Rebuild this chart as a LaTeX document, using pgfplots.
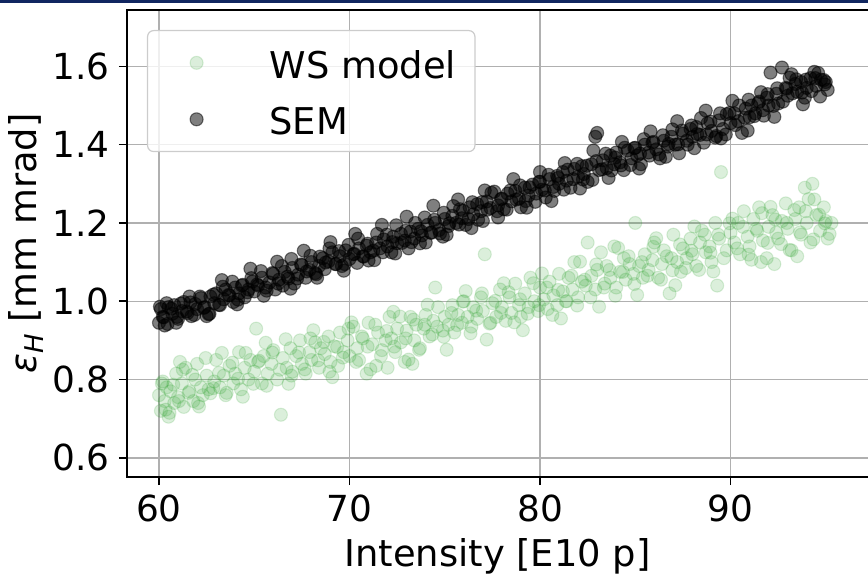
\documentclass[border=0pt]{standalone}
\usepackage{fontspec}
\setmainfont{DejaVu Sans}
\usepackage{pgfplots}
\usepackage{pgfplotstable}
\pgfplotsset{compat=1.18}

\definecolor{wsgreen}{RGB}{44,160,44}
\definecolor{gridgray}{RGB}{176,176,176}
\definecolor{legframe}{RGB}{204,204,204}
\definecolor{topbar}{RGB}{16,38,96}

% Emittance from the wire-scanner model
\pgfplotstableread{
x y
60.0 0.760
60.1 0.720
60.15 0.790
60.2 0.795
60.3 0.745
60.35 0.723
60.4 0.780
60.5 0.705
60.6 0.770
60.75 0.787
60.8 0.740
60.9 0.815
61.0 0.755
61.05 0.745
61.2 0.790
61.25 0.825
61.3 0.730
61.4 0.830
61.55 0.766
61.6 0.770
61.75 0.812
61.8 0.745
61.9 0.800
62.0 0.840
62.05 0.740
62.2 0.780
62.3 0.760
62.45 0.855
62.5 0.810
62.6 0.775
62.7 0.765
62.85 0.778
62.9 0.795
63.0 0.850
63.15 0.817
63.2 0.780
63.4 0.810
63.5 0.760
63.55 0.766
63.7 0.835
63.85 0.843
63.9 0.790
64.0 0.815
64.15 0.802
64.2 0.870
64.3 0.775
64.5 0.830
64.55 0.868
64.7 0.800
64.8 0.850
64.95 0.789
65.0 0.820
65.1 0.930
65.2 0.845
65.25 0.848
65.4 0.790
65.5 0.860
65.65 0.784
65.7 0.815
65.9 0.840
65.95 0.869
66.0 0.875
66.2 0.800
66.35 0.825
66.4 0.710
66.5 0.855
66.65 0.903
66.7 0.830
66.9 0.880
66.95 0.810
67.0 0.820
67.2 0.860
67.35 0.869
67.4 0.900
67.5 0.840
67.65 0.826
67.7 0.815
67.9 0.870
67.95 0.905
68.0 0.850
68.2 0.895
68.35 0.849
68.4 0.830
68.5 0.880
68.65 0.896
68.7 0.865
68.9 0.910
68.95 0.820
69.0 0.845
69.2 0.885
69.35 0.883
69.4 0.835
69.5 0.920
69.65 0.856
69.7 0.870
69.9 0.900
69.95 0.930
70.0 0.860
70.2 0.935
70.35 0.845
70.4 0.880
70.5 0.850
70.65 0.910
70.7 0.905
70.9 0.815
70.95 0.884
71.0 0.945
71.2 0.890
71.35 0.940
71.4 0.835
71.5 0.920
71.65 0.860
71.7 0.875
71.9 0.900
71.95 0.924
72.0 0.830
72.1 0.960
72.2 0.905
72.35 0.884
72.4 0.870
72.5 0.930
72.65 0.961
72.7 0.895
72.9 0.845
72.95 0.905
73.0 0.925
73.2 0.960
73.3 0.840
73.35 0.953
73.4 0.900
73.5 0.940
73.65 0.876
73.7 0.880
73.9 0.930
73.95 0.940
74.0 0.965
74.2 0.910
74.35 0.915
74.4 0.950
74.5 1.035
74.6 0.935
74.65 0.985
74.9 0.925
74.95 0.909
75.0 0.960
75.2 0.940
75.35 0.970
75.4 0.990
75.5 0.920
75.65 0.939
75.7 0.965
75.9 0.945
75.95 0.999
76.0 1.000
76.2 0.960
76.35 0.918
76.4 0.935
76.5 0.985
76.65 0.976
76.7 0.955
76.9 1.010
76.95 1.020
77.0 0.975
77.1 1.120
77.35 0.943
77.4 0.945
77.5 0.995
77.65 1.001
77.7 0.960
77.9 1.030
77.95 0.970
78.0 0.985
78.2 0.950
78.35 1.023
78.4 1.010
78.5 0.970
78.65 0.946
78.7 1.045
78.9 0.990
78.95 1.005
79.0 0.960
79.2 1.020
79.35 0.968
79.4 0.985
79.5 1.060
79.65 1.046
79.7 1.000
79.9 0.975
79.95 0.990
80.0 1.035
80.2 1.005
80.35 1.035
80.4 0.980
80.5 1.050
80.65 0.965
80.7 1.015
80.9 0.990
80.95 1.029
81.0 1.070
81.2 1.025
81.35 1.000
81.4 1.000
81.5 1.060
81.65 1.065
81.7 1.030
81.8 1.100
81.95 0.989
82.0 1.010
82.2 1.050
82.35 1.055
82.4 1.040
82.5 1.150
82.65 1.010
82.7 1.065
82.9 1.030
82.95 1.094
83.0 1.080
83.2 1.125
83.35 1.035
83.4 1.045
83.5 1.090
83.65 1.080
83.7 1.060
83.9 1.140
83.95 1.014
84.0 1.035
84.2 1.075
84.35 1.075
84.4 1.110
84.5 1.055
84.65 1.115
84.7 1.095
84.9 1.070
84.95 1.044
85.0 1.200
85.2 1.090
85.35 1.100
85.4 1.060
85.5 1.120
85.65 1.065
85.7 1.080
85.9 1.105
85.95 1.139
86.0 1.150
86.2 1.060
86.35 1.055
86.4 1.095
86.5 1.130
86.65 1.115
86.8 1.020
86.9 1.110
86.95 1.079
87.0 1.170
87.2 1.100
87.35 1.145
87.4 1.075
87.5 1.135
87.65 1.085
87.7 1.110
87.9 1.160
87.95 1.129
88.0 1.120
88.2 1.090
88.35 1.080
88.4 1.150
88.5 1.180
88.65 1.170
88.7 1.125
88.9 1.140
88.95 1.124
89.0 1.100
89.2 1.200
89.3 1.040
89.35 1.170
89.4 1.160
89.5 1.330
89.65 1.110
89.8 1.130
89.95 1.199
90.0 1.175
90.2 1.150
90.35 1.135
90.4 1.200
90.5 1.120
90.65 1.190
90.7 1.230
90.9 1.165
90.95 1.119
91.0 1.140
91.2 1.210
91.35 1.185
91.4 1.180
91.5 1.240
91.6 1.100
91.65 1.225
91.7 1.155
91.9 1.110
91.95 1.149
92.0 1.190
92.2 1.220
92.3 1.095
92.35 1.209
92.4 1.175
92.5 1.160
92.65 1.146
92.7 1.205
92.9 1.250
92.95 1.200
93.0 1.185
93.2 1.130
93.35 1.233
93.4 1.210
93.5 1.115
93.6 1.240
93.65 1.176
93.7 1.170
93.9 1.290
93.95 1.230
94.0 1.200
94.2 1.150
94.3 1.300
94.35 1.158
94.4 1.260
94.5 1.220
94.65 1.221
94.7 1.180
94.9 1.240
94.95 1.199
95.0 1.205
95.1 1.160
95.3 1.200
60.55 0.715
61.1 0.845
62.1 0.731
63.3 0.868
64.4 0.756
65.6 0.894
66.8 0.789
68.1 0.926
69.1 0.806
70.1 0.946
71.1 0.826
72.3 0.973
73.1 0.851
74.1 0.991
75.1 0.876
76.1 1.026
77.2 0.902
78.1 1.046
79.1 0.926
80.1 1.071
81.1 0.956
82.1 1.101
83.1 0.986
84.1 1.136
85.1 1.016
86.1 1.161
87.1 1.041
88.1 1.191
89.1 1.076
90.1 1.211
91.1 1.106
92.1 1.241
93.1 1.131
94.1 1.261
95.2 1.172
}\wsdata

% Emittance measured with the secondary emission monitor
\pgfplotstableread{
x y
60.0 0.945
60.05 0.986
60.1 0.980
60.2 0.960
60.25 0.959
60.3 0.938
60.45 0.942
60.5 0.985
60.65 0.981
60.7 0.968
60.8 0.990
60.95 0.960
61.0 0.955
61.15 0.994
61.2 0.975
61.3 0.998
61.45 0.974
61.5 0.970
61.65 0.997
61.7 0.962
61.85 0.965
61.9 0.993
62.0 0.980
62.15 1.012
62.2 1.008
62.35 0.983
62.4 0.985
62.5 0.962
62.65 0.968
62.7 1.012
62.85 1.017
62.9 0.995
63.0 1.020
63.15 0.991
63.2 0.990
63.35 1.037
63.4 1.005
63.5 1.030
63.65 1.016
63.7 1.015
63.85 1.050
63.9 0.998
64.0 1.035
64.15 1.004
64.2 1.020
64.35 1.040
64.4 1.042
64.5 1.010
64.65 1.023
64.7 1.030
64.85 1.059
64.9 1.050
65.0 1.025
65.15 1.043
65.2 1.040
65.35 1.077
65.4 1.060
65.6 1.035
65.65 1.027
65.8 1.048
65.95 1.072
66.0 1.070
66.1 1.030
66.25 1.045
66.3 1.055
66.45 1.090
66.5 1.040
66.6 1.075
66.75 1.063
66.8 1.058
66.95 1.108
67.0 1.085
67.1 1.045
67.25 1.058
67.3 1.068
67.45 1.094
67.5 1.092
67.7 1.060
67.75 1.076
67.9 1.080
67.95 1.116
68.0 1.100
68.2 1.072
68.25 1.069
68.4 1.090
68.45 1.114
68.6 1.110
68.7 1.082
68.75 1.099
68.9 1.102
68.95 1.135
69.1 1.125
69.25 1.095
69.3 1.095
69.45 1.128
69.5 1.115
69.6 1.090
69.75 1.095
69.8 1.130
69.95 1.144
70.0 1.108
70.2 1.120
70.25 1.121
70.4 1.098
70.45 1.160
70.5 1.135
70.7 1.115
70.75 1.114
70.9 1.142
70.95 1.147
71.1 1.125
71.25 1.129
71.3 1.105
71.4 1.150
71.45 1.172
71.6 1.135
71.75 1.125
71.8 1.158
71.95 1.170
72.0 1.140
72.2 1.125
72.25 1.151
72.3 1.165
72.45 1.194
72.5 1.148
72.7 1.172
72.75 1.149
72.9 1.155
72.95 1.180
73.1 1.135
73.2 1.178
73.25 1.151
73.4 1.160
73.45 1.200
73.6 1.185
73.75 1.179
73.8 1.168
73.95 1.214
74.0 1.150
74.1 1.195
74.25 1.175
74.3 1.175
74.45 1.208
74.5 1.200
74.7 1.182
74.75 1.173
74.9 1.165
74.95 1.226
75.0 1.210
75.2 1.192
75.25 1.199
75.4 1.218
75.45 1.243
75.6 1.200
75.75 1.196
75.8 1.235
75.9 1.212
75.95 1.231
76.1 1.195
76.25 1.210
76.3 1.240
76.45 1.253
76.5 1.222
76.7 1.248
76.75 1.208
76.9 1.230
76.95 1.253
77.0 1.205
77.2 1.255
77.25 1.234
77.4 1.238
77.45 1.277
77.6 1.280
77.75 1.230
77.8 1.245
77.95 1.261
78.0 1.262
78.1 1.235
78.25 1.234
78.3 1.275
78.45 1.283
78.5 1.255
78.7 1.282
78.75 1.260
78.9 1.262
78.95 1.296
79.0 1.240
79.2 1.290
79.25 1.256
79.4 1.270
79.45 1.291
79.6 1.298
79.75 1.254
79.8 1.275
79.95 1.305
80.0 1.305
80.1 1.285
80.25 1.283
80.3 1.265
80.45 1.323
80.5 1.312
80.7 1.292
80.75 1.282
80.9 1.320
80.95 1.315
81.0 1.300
81.2 1.330
81.25 1.285
81.4 1.308
81.45 1.336
81.6 1.290
81.75 1.312
81.8 1.338
81.95 1.351
82.0 1.318
82.2 1.345
82.25 1.311
82.3 1.325
82.45 1.346
82.5 1.305
82.7 1.350
82.75 1.310
82.9 1.420
82.95 1.358
83.0 1.430
83.1 1.335
83.25 1.337
83.3 1.360
83.45 1.377
83.5 1.340
83.7 1.372
83.75 1.334
83.9 1.350
83.95 1.367
84.0 1.380
84.2 1.355
84.25 1.347
84.4 1.335
84.45 1.392
84.6 1.385
84.75 1.348
84.8 1.365
84.95 1.391
85.0 1.392
85.1 1.372
85.25 1.377
85.3 1.350
85.45 1.414
85.5 1.400
85.7 1.380
85.75 1.372
85.9 1.405
85.95 1.407
86.1 1.388
86.25 1.375
86.3 1.365
86.45 1.424
86.5 1.410
86.7 1.395
86.75 1.402
86.9 1.420
86.95 1.439
87.1 1.400
87.25 1.401
87.3 1.378
87.45 1.436
87.5 1.428
87.7 1.410
87.75 1.400
87.9 1.440
87.95 1.449
88.0 1.420
88.2 1.445
88.25 1.427
88.4 1.425
88.45 1.468
88.6 1.405
88.75 1.426
88.8 1.455
88.95 1.459
89.0 1.435
89.2 1.418
89.25 1.422
89.4 1.462
89.45 1.480
89.6 1.440
89.75 1.426
89.8 1.478
89.95 1.481
90.0 1.455
90.2 1.480
90.25 1.450
90.4 1.460
90.45 1.500
90.6 1.430
90.75 1.469
90.8 1.492
90.95 1.515
91.0 1.470
91.1 1.500
91.25 1.473
91.3 1.480
91.45 1.506
91.5 1.510
91.7 1.488
91.75 1.474
91.9 1.520
91.95 1.529
92.0 1.500
92.1 1.584
92.25 1.499
92.4 1.530
92.45 1.544
92.5 1.505
92.7 1.597
92.75 1.510
92.9 1.545
92.95 1.543
93.0 1.525
93.2 1.580
93.25 1.531
93.4 1.555
93.45 1.567
93.5 1.535
93.7 1.560
93.75 1.533
93.9 1.520
93.95 1.566
94.0 1.545
94.2 1.570
94.25 1.537
94.4 1.586
94.45 1.570
94.5 1.550
94.7 1.523
94.75 1.566
94.9 1.565
94.95 1.554
95.0 1.560
95.1 1.540
60.4 0.995
60.9 0.945
61.6 1.012
62.6 0.967
63.3 1.054
64.1 0.992
64.8 1.083
65.5 1.014
66.2 1.101
66.9 1.032
67.6 1.129
68.3 1.060
69.0 1.151
69.7 1.078
70.3 1.172
71.0 1.104
71.7 1.195
72.4 1.122
73.0 1.216
73.7 1.148
74.4 1.244
75.1 1.170
75.7 1.260
76.4 1.187
77.1 1.283
77.8 1.214
78.6 1.312
79.3 1.239
80.0 1.330
80.6 1.256
81.3 1.353
82.1 1.288
82.8 1.385
83.6 1.315
84.3 1.407
85.2 1.339
85.8 1.434
86.6 1.369
87.2 1.460
88.1 1.391
88.7 1.487
89.5 1.416
90.1 1.512
90.9 1.436
91.6 1.534
92.3 1.471
93.1 1.571
93.8 1.503
94.6 1.583
}\semdata

\begin{document}
\begin{tikzpicture}
\begin{axis}[
  at={(0,0)}, anchor=south west,
  scale only axis, width=744.5bp, height=467bp,
  xmin=58.32, xmax=97.4, ymin=0.551, ymax=1.744,
  xtick={60,70,80,90},
  ytick={0.6,0.8,1.0,1.2,1.4,1.6},
  tick pos=left, tick align=outside,
  major tick length=8bp,
  every tick/.style={black, line width=1.5bp},
  axis line style={black, line width=1.5bp},
  grid=major,
  major grid style={gridgray, line width=1.4bp},
  /pgf/number format/assume math mode=true,
  tick label style={font=\fontsize{36}{43}\selectfont},
  xticklabel style={inner sep=0pt, yshift=-10bp},
  yticklabel style={inner sep=0pt, xshift=-9bp,
    /pgf/number format/.cd, fixed, fixed zerofill, precision=1},
  every axis x label/.style={at={(axis description cs:0.4977,-0.1906)}, anchor=base,
    font=\fontsize{37}{44}\selectfont},
  every axis y label/.style={at={(axis description cs:-0.1209,0.5)}, rotate=90, anchor=base,
    font=\fontsize{37}{44}\selectfont},
  xlabel={Intensity [E10 p]},
  ylabel={{\itshape ε}\raisebox{-7bp}{\fontsize{26}{26}\selectfont\itshape H} [mm mrad]},
  legend cell align=left,
  legend image code/.code={%
    \path[draw=none, fill=none] (0bp,0bp) -- (103bp,0bp);
    \path[#1, draw=none, fill=none] plot[only marks] coordinates {(32bp,0bp)};},
  legend style={at={(axis description cs:0.02686,0.95717)}, anchor=north west,
    draw=legframe, line width=1.2bp, fill=white, fill opacity=0.8, text opacity=1,
    rounded corners=6bp, inner xsep=17bp, inner ysep=13.5bp, row sep=19bp,
    font=\fontsize{37}{44}\selectfont,
    cells={inner sep=0pt, text height=32bp, text depth=6bp}},
]
\addplot[only marks, mark=*, mark size=6.5bp,
  mark options={fill=wsgreen, draw=wsgreen, fill opacity=0.17, draw opacity=0.17, line width=1.1bp}]
  table {\wsdata};
\addlegendentry{WS model}
\addplot[only marks, mark=*, mark size=6.5bp,
  mark options={fill=black, draw=black, fill opacity=0.5, draw opacity=0.5, line width=1.1bp}]
  table {\semdata};
\addlegendentry{SEM}
\end{axis}
\fill[topbar] (-127bp,474.3bp) rectangle (741bp,477bp);
\pgfresetboundingbox
\useasboundingbox (-127bp,-99bp) rectangle (741bp,477bp);
\end{tikzpicture}
\end{document}
